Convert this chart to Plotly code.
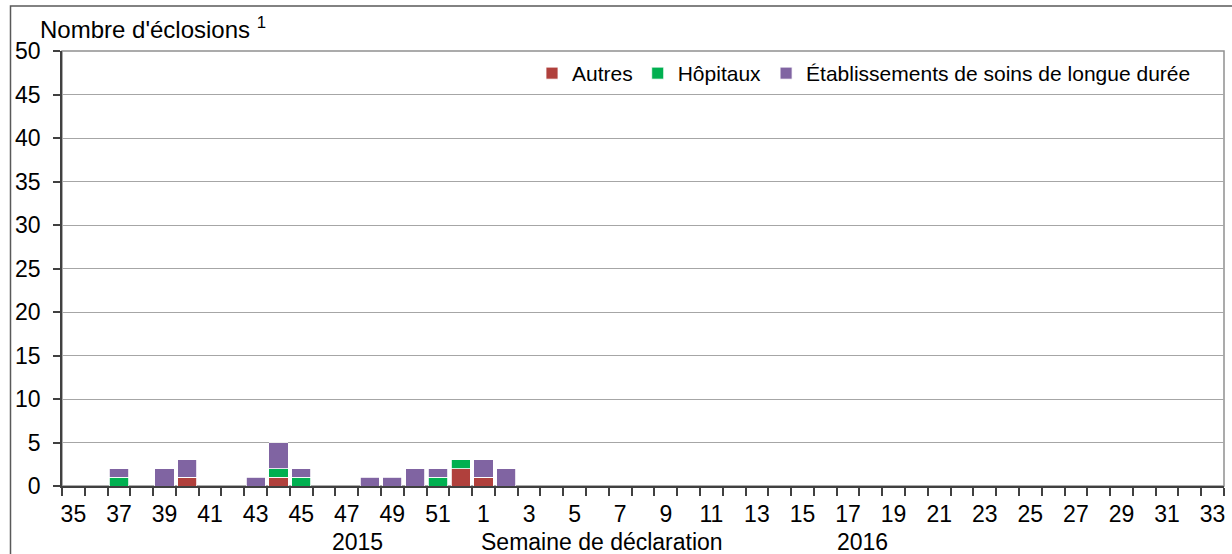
import plotly.graph_objects as go

weeks = [str(w) for w in list(range(35, 53)) + list(range(1, 34))]
autres = [0, 0, 0, 0, 0, 1, 0, 0, 0, 1, 0, 0, 0, 0, 0, 0, 0, 2, 1, 0] + [0] * 31
hopitaux = [0, 0, 1, 0, 0, 0, 0, 0, 0, 1, 1, 0, 0, 0, 0, 0, 1, 1, 0, 0] + [0] * 31
sld = [0, 0, 1, 0, 2, 2, 0, 0, 1, 3, 1, 0, 0, 1, 1, 2, 1, 0, 2, 2] + [0] * 31
series_names = ["Autres", "Hôpitaux", "Établissements de soins de longue durée"]
colors = ["#B0403C", "#00B050", "#8064A2"]
year_labels = ["2015", "2016"]
x_title = "Semaine de déclaration"
y_title = "Nombre d'éclosions <sup>1</sup>"

x = list(range(len(weeks)))
FONT = "Liberation Sans, Arial, sans-serif"

fig = go.Figure()
for name, vals, col in zip(series_names, [autres, hopitaux, sld], colors):
    fig.add_trace(go.Bar(x=x, y=vals, name=name, marker=dict(color=col, line=dict(color="white", width=0.8))))

W, H = 1232, 554
L, R, T, B = 62, 8, 51, 68
pw, ph = W - L - R, H - T - B

def px_x(p):
    return (p - L) / pw

def px_y(p):
    return 1 - (p - T) / ph

fig.update_layout(
    width=W, height=H,
    margin=dict(l=L, r=R, t=T, b=B),
    barmode="stack", bargap=0.16,
    plot_bgcolor="white", paper_bgcolor="white",
    font=dict(family=FONT, size=23, color="black"),
    showlegend=True,
    legend=dict(orientation="h", x=px_x(532), xanchor="left", y=px_y(53), yanchor="top",
                font=dict(size=21), bgcolor="rgba(0,0,0,0)", traceorder="normal", itemwidth=30),
    xaxis=dict(range=[-0.5, len(weeks) - 0.5], tickmode="array", tickvals=x[::2], ticktext=weeks[::2],
               ticks="outside", ticklen=7, tickcolor="rgba(0,0,0,0)", showgrid=False, zeroline=False,
               showline=True, linecolor="#404040", linewidth=1.5,
               minor=dict(tickvals=[i - 0.5 for i in range(len(weeks) + 1)], ticks="outside", ticklen=8,
                          tickcolor="#404040", tickwidth=1.5, showgrid=False),
               tickfont=dict(size=23)),
    yaxis=dict(range=[0, 50], tickmode="array", tickvals=list(range(0, 51, 5)), ticks="outside", ticklen=7,
               tickcolor="#404040", tickwidth=1.5, showgrid=True, gridcolor="#A6A6A6", gridwidth=1,
               zeroline=False, showline=True, linecolor="#404040", linewidth=1.5, ticklabelstandoff=8,
               tickfont=dict(size=23)),
    shapes=[
        dict(type="rect", xref="paper", yref="paper", x0=0, x1=1, y0=0, y1=1,
             line=dict(color="#909090", width=1.5), layer="below"),
        dict(type="rect", xref="paper", yref="paper", x0=px_x(10.5), x1=px_x(1240), y0=px_y(6), y1=px_y(600),
             line=dict(color="#595959", width=1.5)),
    ],
    annotations=[
        dict(text=y_title, xref="paper", yref="paper", x=px_x(38), y=px_y(28), xanchor="left", yanchor="middle",
             showarrow=False, font=dict(size=24)),
        dict(text=year_labels[0], xref="paper", yref="paper", x=px_x(357), y=px_y(542), xanchor="center",
             yanchor="middle", showarrow=False, font=dict(size=23)),
        dict(text=x_title, xref="paper", yref="paper", x=px_x(602), y=px_y(542), xanchor="center",
             yanchor="middle", showarrow=False, font=dict(size=23)),
        dict(text=year_labels[1], xref="paper", yref="paper", x=px_x(862), y=px_y(542), xanchor="center",
             yanchor="middle", showarrow=False, font=dict(size=23)),
    ],
)

fig.write_html("out.html", config={"displayModeBar": False},
               post_script="document.body.style.margin='0';document.body.style.overflow='hidden';")
